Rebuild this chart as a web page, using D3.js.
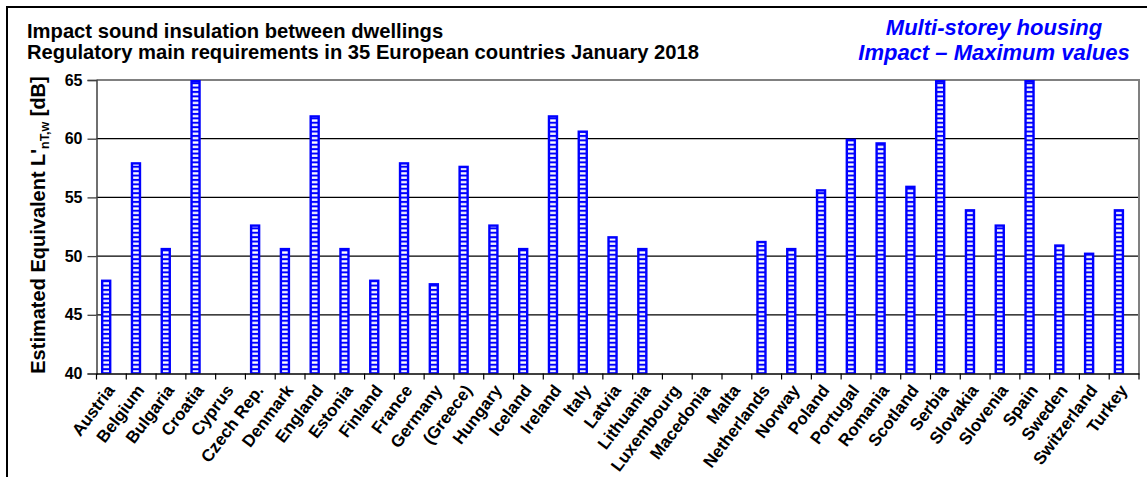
<!DOCTYPE html>
<html><head><meta charset="utf-8">
<script src="https://cdn.jsdelivr.net/npm/d3@7"></script>
<style>body{margin:0;background:#fff} svg{display:block}</style>
</head><body>
<svg id="c" width="1147" height="477"></svg>
<script>
const categories = ["Austria","Belgium","Bulgaria","Croatia","Cyprus","Czech Rep.","Denmark","England","Estonia","Finland","France","Germany","(Greece)","Hungary","Iceland","Ireland","Italy","Latvia","Lithuania","Luxembourg","Macedonia","Malta","Netherlands","Norway","Poland","Portugal","Romania","Scotland","Serbia","Slovakia","Slovenia","Spain","Sweden","Switzerland","Turkey"];
const maxValues = [48,58,50.7,65,null,52.7,50.7,62,50.7,48,58,47.7,57.7,52.7,50.7,62,60.7,51.7,50.7,null,null,null,51.3,50.7,55.7,60,59.7,56,65,54,52.7,65,51,50.3,54];
const yTicks = [40,45,50,55,60,65];
const titleLines = ["Impact sound insulation between dwellings","Regulatory main requirements in 35 European countries January 2018"];
const subtitleLines = ["Multi-storey housing","Impact \u2013 Maximum values"];

const FONT = "'Liberation Sans', Arial, sans-serif";
const svg = d3.select("#c");
const W = 1147, H = 477;
const plot = {left: 96.5, right: 1139, top: 80, bottom: 373.5};

const x = d3.scaleBand().domain(categories).range([plot.left, plot.right]).padding(0);
const xSub = d3.scaleBand().domain(["max","other"]).range([0, x.bandwidth()]).paddingInner(0).paddingOuter(0.43);
const y = d3.scaleLinear().domain([40,65]).range([plot.bottom, plot.top]);

// outer frame
svg.append("rect").attr("x",7).attr("y",7).attr("width",W+10).attr("height",H+10)
  .attr("fill","#fff").attr("stroke","#000").attr("stroke-width",2);

// pattern
const defs = svg.append("defs");
const pat = defs.append("pattern").attr("id","stripes").attr("patternUnits","userSpaceOnUse")
  .attr("width",20).attr("height",4.4).attr("y", plot.bottom);
pat.append("rect").attr("width",20).attr("height",4.4).attr("fill","#0000ff");
pat.append("rect").attr("y",1.1).attr("width",20).attr("height",2.3).attr("fill","#fff");

const clip = defs.append("clipPath").attr("id","pclip");
clip.append("rect").attr("x",plot.left).attr("y",plot.top-1.5).attr("width",plot.right-plot.left).attr("height",plot.bottom-plot.top+1.5);

// gridlines
svg.append("g").selectAll("line").data(yTicks.filter(t=>t>40 && t<65)).join("line")
  .attr("x1",plot.left).attr("x2",plot.right).attr("y1",d=>y(d)).attr("y2",d=>y(d))
  .attr("stroke","#000").attr("stroke-width",1.2);
// plot border top/right
svg.append("path").attr("d",`M${plot.left},${y(65)}H${plot.right}V${plot.bottom}`)
  .attr("fill","none").attr("stroke","#808080").attr("stroke-width",2);

// bars
const sw = 2.4;
svg.append("g").attr("clip-path","url(#pclip)").selectAll("rect")
  .data(categories.map((c,i)=>({c, v: maxValues[i]})).filter(d=>d.v!=null))
  .join("rect")
  .attr("x", d=>x(d.c)+xSub("max")+sw/2)
  .attr("width", xSub.bandwidth()-sw)
  .attr("y", d=>y(d.v)+sw/2)
  .attr("height", d=>y(40)-y(d.v)-sw/2)
  .attr("fill","url(#stripes)").attr("stroke","#0000ff").attr("stroke-width",sw);

// y axis
const yAxis = d3.axisLeft(y).tickValues(yTicks).tickSize(9).tickPadding(5);
const ga = svg.append("g").attr("transform",`translate(${plot.left},0)`).call(yAxis);
ga.select(".domain").attr("stroke","#404040").attr("stroke-width",1.5);
ga.selectAll(".tick line").attr("stroke","#404040").attr("stroke-width",1.3);
ga.selectAll(".tick text").attr("font-family",FONT).attr("font-size",16).attr("font-weight","bold").attr("fill","#000");

// x axis
const xAxis = d3.axisBottom(x).tickSize(6).tickFormat("").tickSizeOuter(0);
const gx = svg.append("g").attr("transform",`translate(0,${plot.bottom})`).call(xAxis);
gx.select(".domain").attr("stroke","#000").attr("stroke-width",1.5);
gx.selectAll(".tick line").attr("stroke","#000").attr("stroke-width",1.2)
  .attr("transform",`translate(${x.bandwidth()/2},0)`);
gx.append("line").attr("x1",plot.left).attr("x2",plot.left).attr("y1",0).attr("y2",6).attr("stroke","#000").attr("stroke-width",1.2);

svg.append("g").selectAll("text").data(categories).join("text")
  .attr("transform", d=>`translate(${x(d)+x.bandwidth()/2+4},${plot.bottom+17}) rotate(-53)`)
  .attr("text-anchor","end").attr("font-family",FONT).attr("font-size",17).attr("font-weight","bold").attr("fill","#000")
  .text(d=>d);

// y title
const yt = svg.append("text").attr("transform",`translate(45,225) rotate(-90)`)
  .attr("text-anchor","middle").attr("font-family",FONT).attr("font-size",20).attr("font-weight","bold");
yt.append("tspan").text("Estimated Equivalent L'");
yt.append("tspan").attr("font-size",12.5).attr("dy",4).text("nT,w");
yt.append("tspan").attr("dy",-4).text(" [dB]");

// titles
svg.append("g").selectAll("text").data(titleLines).join("text")
  .attr("x",27).attr("y",(d,i)=>38+i*21)
  .attr("font-family",FONT).attr("font-size",20.2).attr("font-weight","bold").attr("fill","#000")
  .text(d=>d);
svg.append("g").selectAll("text").data(subtitleLines).join("text")
  .attr("x",994).attr("y",(d,i)=>35+i*25).attr("text-anchor","middle")
  .attr("font-family",FONT).attr("font-size",22).attr("font-weight","bold").attr("font-style","italic").attr("fill","#0000ff")
  .text(d=>d);
</script>
</body></html>
